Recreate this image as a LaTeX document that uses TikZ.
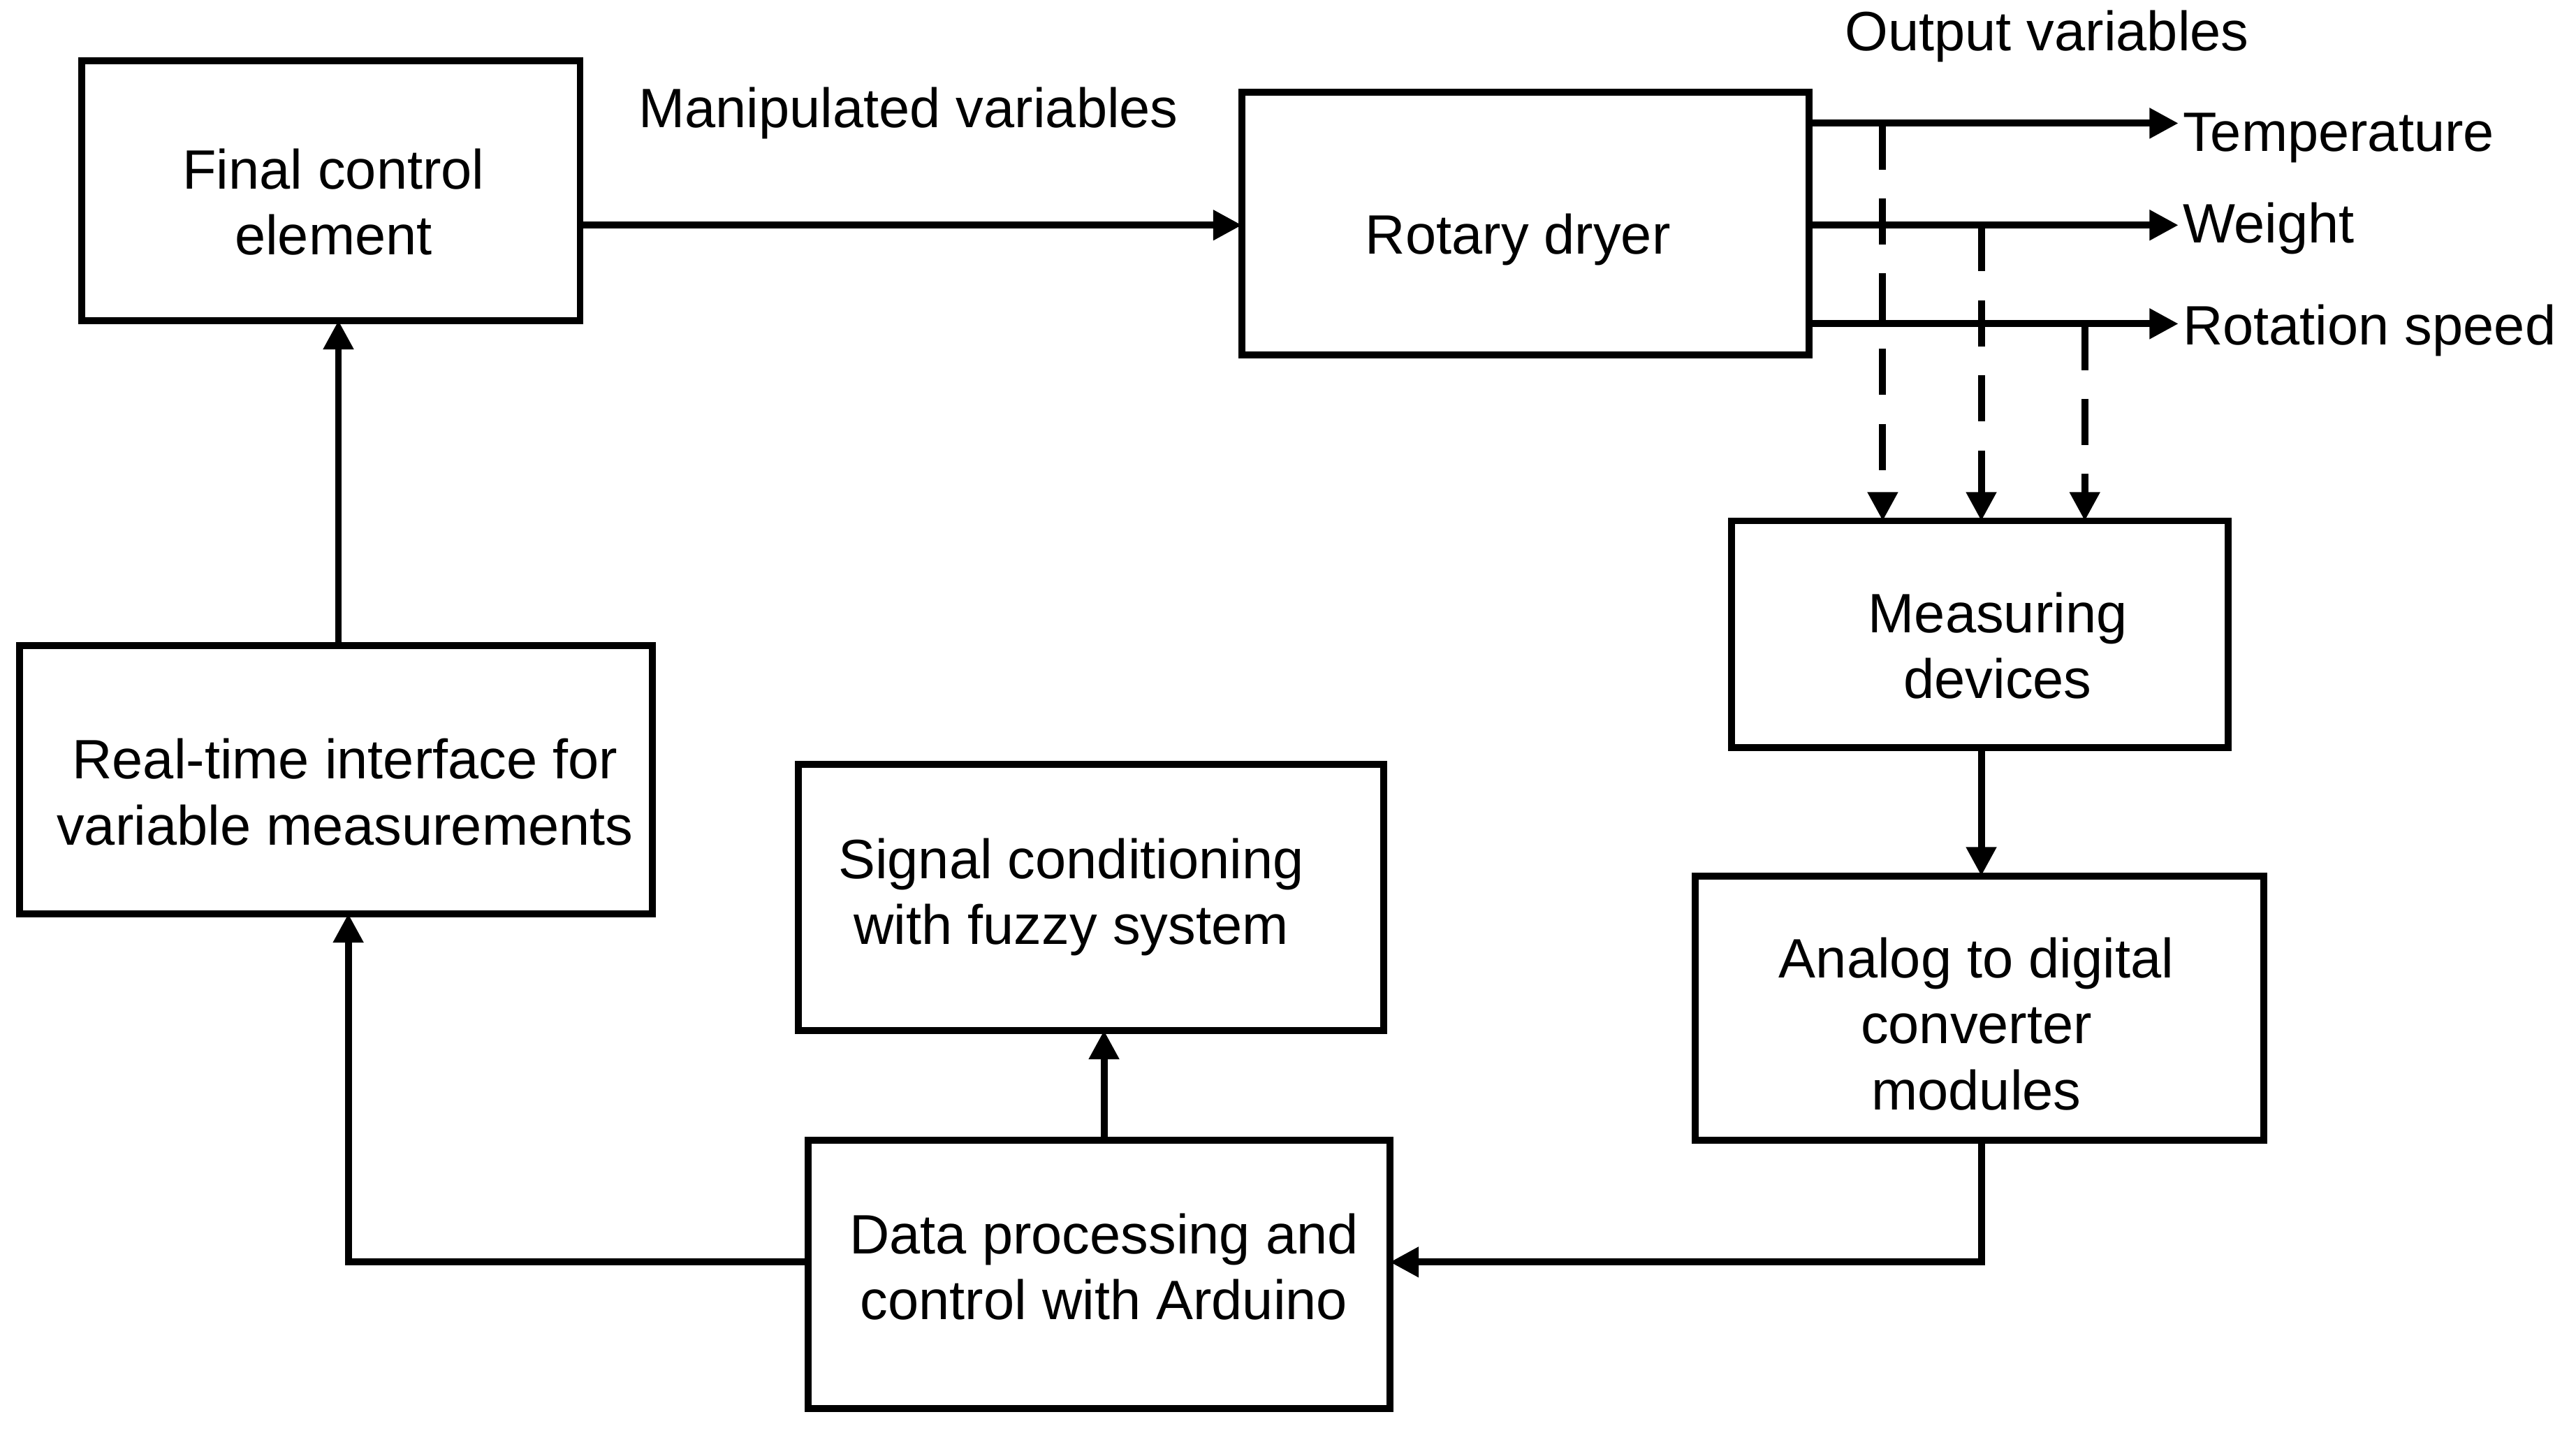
\documentclass[tikz,border=0pt]{standalone}
\usepackage{fontspec}
\setmainfont{Liberation Sans}
\usetikzlibrary{arrows.meta}
\begin{document}
\begin{tikzpicture}[x=0.01cm,y=-0.01cm,
  box/.style={draw,line width=1.2pt,inner sep=0pt},
  txt/.style={align=center,font=\fontsize{9.6}{11.4}\selectfont,inner sep=0pt},
  arr/.style={line width=1.2pt,-{Triangle[length=5pt,width=5pt]}},
  lab/.style={font=\fontsize{9.6}{11.4}\selectfont,inner sep=0pt}]
\useasboundingbox (0,0) rectangle (1568,872);
\node[box,minimum width=3.03cm,minimum height=1.58cm] (fce) at (201.5,116) {};
\node[txt] at (203,123) {Final control\\element};
\node[box,minimum width=3.45cm,minimum height=1.60cm] (rd) at (928.5,136) {};
\node[txt] at (924,146) {Rotary dryer};
\node[box,minimum width=3.02cm,minimum height=1.38cm] (md) at (1205,386) {};
\node[txt] at (1216,393) {Measuring\\devices};
\node[box,minimum width=3.46cm,minimum height=1.61cm] (adc) at (1205,613.5) {};
\node[txt] at (1203,623) {Analog to digital\\converter\\modules};
\node[box,minimum width=3.54cm,minimum height=1.63cm] (dp) at (669,775.5) {};
\node[txt] at (672,771) {Data processing and\\control with Arduino};
\node[box,minimum width=3.56cm,minimum height=1.62cm] (sc) at (664,546) {};
\node[txt] at (652,546) {Signal conditioning\\with fuzzy system};
\node[box,minimum width=3.85cm,minimum height=1.63cm] (rti) at (204.5,474.5) {};
\node[txt] at (210,482) {Real-time interface for\\variable measurements};
\node[lab] (mv) at (553,69) {Manipulated variables};
\node[lab] (ov) at (1246,22) {Output variables};
\node[lab,anchor=west] (t) at (1328,84) {Temperature};
\node[lab,anchor=west] (w) at (1328,139) {Weight};
\node[lab,anchor=west] (r) at (1328,201) {Rotation speed};
\coordinate (o1) at (1101,75); \coordinate (e1) at (1326,75);
\coordinate (o2) at (1101,137); \coordinate (e2) at (1326,137);
\coordinate (o3) at (1101,197); \coordinate (e3) at (1326,197);
\draw[arr] (353,137) -- (756,137);
\draw[arr] (o1) -- (e1);
\draw[arr] (o2) -- (e2);
\draw[arr] (o3) -- (e3);
\draw[arr,dash pattern=on 8pt off 5pt] (1146,75) -- (1146,317);
\draw[arr,dash pattern=on 8pt off 5pt] (1206,137) -- (1206,317);
\draw[arr,dash pattern=on 8pt off 5pt] (1269,197) -- (1269,317);
\draw[arr] (1206,455) -- (1206,533);
\draw[arr] (1206,694) |- (846,768);
\draw[arr] (672,694) -- (672,627);
\draw[arr] (492,768) -| (212,556);
\draw[arr] (206,393) -- (206,195);
\end{tikzpicture}
\end{document}
